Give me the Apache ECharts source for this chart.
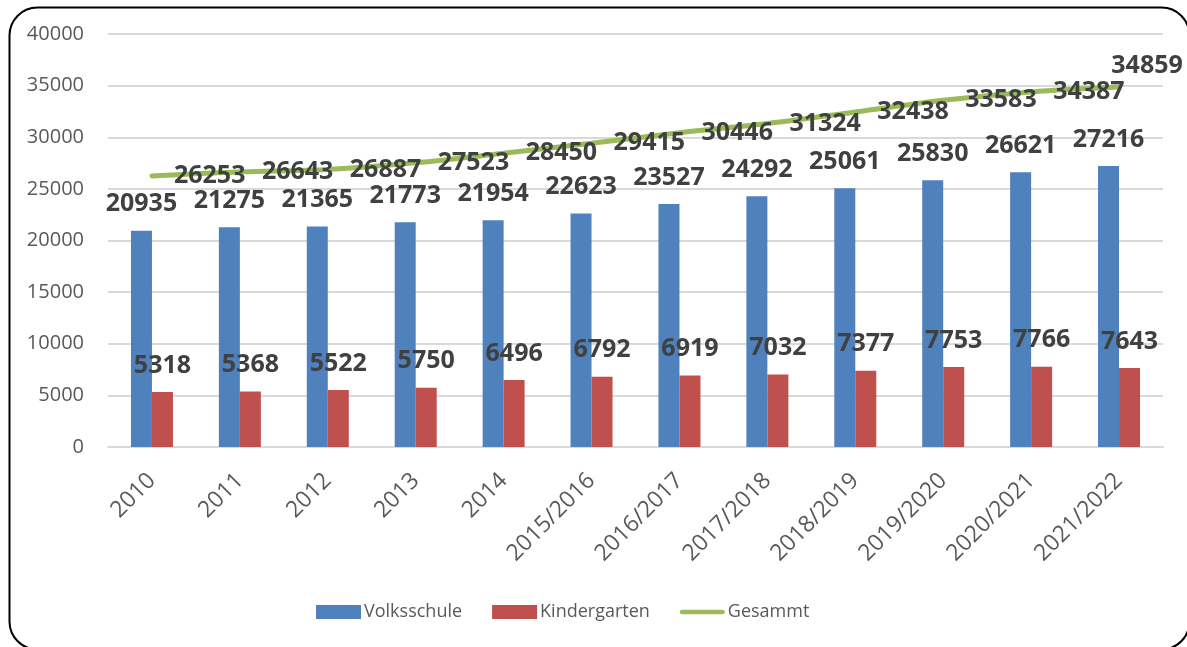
<!DOCTYPE html>
<html>
<head>
<meta charset="utf-8">
<script src="https://cdn.jsdelivr.net/npm/echarts@6/dist/echarts.min.js"></script>
<style>
html,body{margin:0;padding:0;background:#fff;}
#chart{width:1187px;height:647px;}
</style>
</head>
<body>
<div id="chart"></div>
<script>
var categories = ['2010','2011','2012','2013','2014','2015/2016','2016/2017','2017/2018','2018/2019','2019/2020','2020/2021','2021/2022'];
var volksschule = [20935,21275,21365,21773,21954,22623,23527,24292,25061,25830,26621,27216];
var kindergarten = [5318,5368,5522,5750,6496,6792,6919,7032,7377,7753,7766,7643];
var gesamt = [26253,26643,26887,27523,28450,29415,30446,31324,32438,33583,34387,34859];
var yTicks = [0,5000,10000,15000,20000,25000,30000,35000,40000];

var FONT = '"Open Sans", "Noto Sans", sans-serif';
var labelStyle = {show:true, fontFamily:FONT, fontWeight:'bold', fontSize:25, color:'#404040'};

var gesamtData = gesamt.map(function(v,i){
  if (i === gesamt.length-1) {
    return {value:v, label:{position:'top', distance:8, offset:[28,0]}};
  }
  return v;
});

var chart = echarts.init(document.getElementById('chart'));
chart.setOption({
  animation:false,
  backgroundColor:'#fff',
  graphic:[{
    type:'rect', left:7, top:5, z:100, silent:true,
    shape:{width:1180, height:642, r:28},
    style:{fill:'none', stroke:'#000', lineWidth:2}
  }],
  grid:{left:108, right:24, top:34, bottom:200, containLabel:false},
  legend:{
    left:316, top:603, padding:0, itemWidth:45, itemHeight:14, itemGap:30,
    textStyle:{fontFamily:FONT, fontSize:18, color:'#595959', padding:[0,0,0,-2]},
    data:[
      {name:'Volksschule', icon:'rect'},
      {name:'Kindergarten', icon:'rect'},
      {name:'Gesammt', icon:'path://M2.5,0 L46.5,0 A2.5,2.5 0 0 1 46.5,5 L2.5,5 A2.5,2.5 0 0 1 2.5,0 Z'}
    ]
  },
  xAxis:{
    type:'category', data:categories,
    axisLine:{show:true, lineStyle:{color:'#D9D9D9', width:2}},
    axisTick:{show:false},
    axisLabel:{rotate:45, margin:30, fontFamily:FONT, fontSize:23, color:'#595959', interval:0}
  },
  yAxis:{
    type:'value', min:yTicks[0], max:yTicks[yTicks.length-1], interval:yTicks[1]-yTicks[0],
    axisLine:{show:false}, axisTick:{show:false},
    splitLine:{lineStyle:{color:'#D9D9D9', width:2}},
    axisLabel:{margin:24, fontFamily:FONT, fontSize:20, color:'#595959',
      formatter:function(v){ return String(v); }}
  },
  series:[
    {name:'Volksschule', type:'bar', data:volksschule, barWidth:21, barGap:'0%',
     itemStyle:{color:'#4F81BD'},
     label:Object.assign({position:'top', distance:14}, labelStyle)},
    {name:'Kindergarten', type:'bar', data:kindergarten, barWidth:21, barGap:'0%',
     itemStyle:{color:'#C0504D'},
     label:Object.assign({position:'top', distance:14}, labelStyle)},
    {name:'Gesammt', type:'line', data:gesamtData, smooth:0.35,
     symbol:'circle', symbolSize:2, itemStyle:{color:'#9BBB59'},
     lineStyle:{color:'#9BBB59', width:5, cap:'round'},
     label:Object.assign({position:'right', distance:21}, labelStyle), z:3}
  ]
});
</script>
</body>
</html>
